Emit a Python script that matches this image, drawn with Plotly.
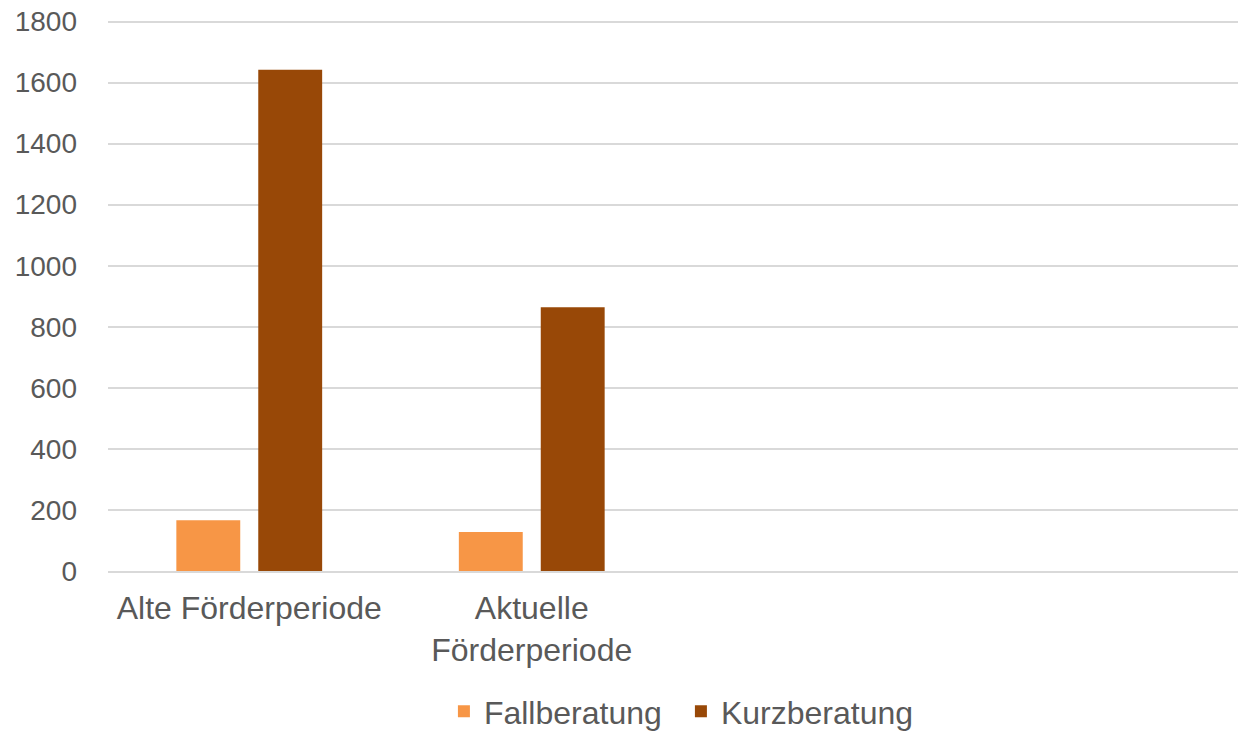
import plotly.graph_objects as go

categories = ["Alte Förderperiode", "Aktuelle<br>Förderperiode", " ", "  "]
fallberatung = [166, 128, None, None]
kurzberatung = [1642, 864, None, None]
y_ticks = [0, 200, 400, 600, 800, 1000, 1200, 1400, 1600, 1800]

fig = go.Figure()
fig.add_trace(go.Bar(x=categories, y=fallberatung, name="Fallberatung",
                     marker=dict(color="#F79646", line=dict(width=0))))
fig.add_trace(go.Bar(x=categories, y=kurzberatung, name="Kurzberatung",
                     marker=dict(color="#984807", line=dict(width=0))))

fig.update_layout(
    width=1239, height=731,
    margin=dict(l=108, r=1, t=20, b=160, autoexpand=False),
    paper_bgcolor="white", plot_bgcolor="white",
    barmode="group", bargap=0.42, bargroupgap=0.22,
    font=dict(family="Liberation Sans, Arial, sans-serif", color="#595959"),
    showlegend=True,
    legend=dict(orientation="h", x=0.507, xanchor="center", y=-0.205, yanchor="top",
                font=dict(size=32, color="#595959"), itemwidth=30, traceorder="normal",
                entrywidth=192, entrywidthmode="pixels"),
)
fig.update_yaxes(range=[0, 1805], tickvals=y_ticks, showgrid=True, gridcolor="#D9D9D9",
                 gridwidth=2, zeroline=False, showline=False, tickfont=dict(size=28),
                 ticks="", ticklabelstandoff=30, automargin=False)
fig.update_xaxes(showgrid=False, showline=True, linecolor="#D9D9D9", linewidth=2,
                 tickfont=dict(size=32), ticks="", tickangle=0, automargin=False,
                 ticklabelstandoff=8)

fig.write_html("out.html", config={"displayModeBar": False},
               post_script="document.body.style.margin='0';document.body.style.overflow='hidden';")
